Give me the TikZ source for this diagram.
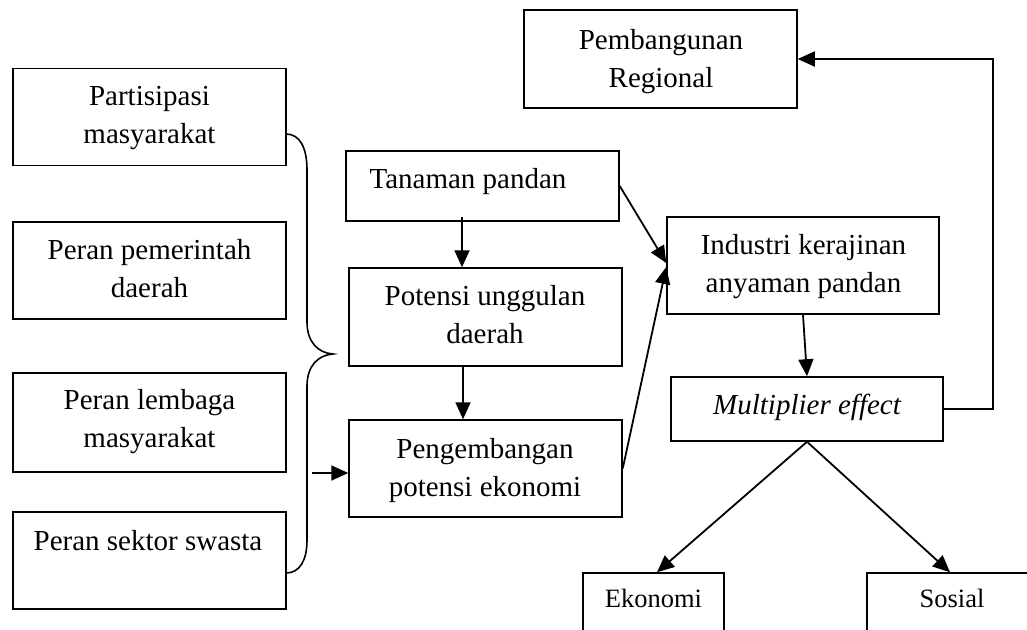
\documentclass[tikz,border=0pt]{standalone}
\usepackage{fontspec}
\setmainfont{Liberation Serif}
\usetikzlibrary{arrows.meta}
\begin{document}
\begin{tikzpicture}[x=1pt,y=-1pt,
  font=\fontsize{29}{38}\selectfont,
  box/.style={draw=black,line width=1.5pt,rectangle,inner sep=0pt,minimum width=273pt,minimum height=97pt},
  txt/.style={inner sep=0pt,anchor=base,align=center},
  small/.style={font=\fontsize{26.5}{32}\selectfont},
  arr/.style={line width=1.8pt,-{Triangle[length=17pt,width=15pt]}},
  brace/.style={line width=1.6pt}]
\useasboundingbox (0,0) rectangle (1027,629);
\clip (0,0) rectangle (1027,629);
\fill[white] (0,0) rectangle (1027,629);
% boxes
\node[box] (part) at (149.5,117) {};
\node[box] (pem) at (149.5,270.5) {};
\node[box,minimum height=99pt] (lem) at (149.5,422.5) {};
\node[box] (swa) at (149.5,560.5) {};
\node[box,minimum height=70pt] (tan) at (482.5,186) {};
\node[box,minimum height=98pt] (pot) at (485.5,317) {};
\node[box] (peng) at (485.5,468.5) {};
\node[box,minimum width=272pt] (ind) at (803,265.5) {};
\node[box,minimum width=272pt,minimum height=64pt] (mult) at (807,409) {};
\node[box,minimum height=98pt] (pemb) at (660.5,59) {};
\node[box,minimum width=141pt,minimum height=127pt] (eko) at (653.5,636.5) {};
\node[box,minimum width=233pt,minimum height=127pt] (sos) at (983.5,636.5) {};
% texts (base = baseline of the last line)
\node[txt] (tpart) at (149.5,143) {Partisipasi\\masyarakat};
\node[txt] (tpem) at (149.5,297) {Peran pemerintah\\daerah};
\node[txt] (tlem) at (149.5,447) {Peran lembaga\\masyarakat};
\node[txt] (tswa) at (148,550) {Peran sektor swasta};
\node[txt] (ttan) at (468,188) {Tanaman pandan};
\node[txt] (tpot) at (485,343) {Potensi unggulan\\daerah};
\node[txt] (tpeng) at (485,496) {Pengembangan\\potensi ekonomi};
\node[txt] (tind) at (803.5,292) {Industri kerajinan\\anyaman pandan};
\node[txt] (tmult) at (807,414) {\itshape Multiplier effect};
\node[txt] (tpemb) at (661,87) {Pembangunan\\Regional};
\node[txt,small] (teko) at (653.5,607) {Ekonomi};
\node[txt,small] (tsos) at (952,607) {Sosial};
% brace
\draw[brace] (286,134) .. controls (300,134) and (307,148) .. (307,170) -- (307,322)
  .. controls (307,342) and (318,353) .. (333,354)
  .. controls (318,355) and (307,366) .. (307,386) -- (307,540)
  .. controls (307,560) and (300,573) .. (286,573);
\coordinate (bs) at (312,473);
% arrows
\draw[arr] (bs) -- (peng.west |- bs);
\draw[arr] ([xshift=-20.5pt,yshift=5pt]tan.south) -- ([xshift=-23.5pt]pot.north);
\draw[arr] ([xshift=-22.5pt]pot.south) -- ([xshift=-22.5pt]peng.north);
\draw[arr] (tan.east) -- ([yshift=2.5pt]ind.west);
\draw[arr] (peng.east) -- ([yshift=-1.5pt]ind.west);
\draw[arr] (ind.south) -- (mult.north);
\draw[arr] (mult.south) -- ([xshift=3.5pt]eko.north);
\draw[arr] (mult.south) -- ([xshift=-33.5pt]sos.north);
\draw[arr] (mult.east) -- ++(49,0) |- (pemb.east);
\end{tikzpicture}
\end{document}
